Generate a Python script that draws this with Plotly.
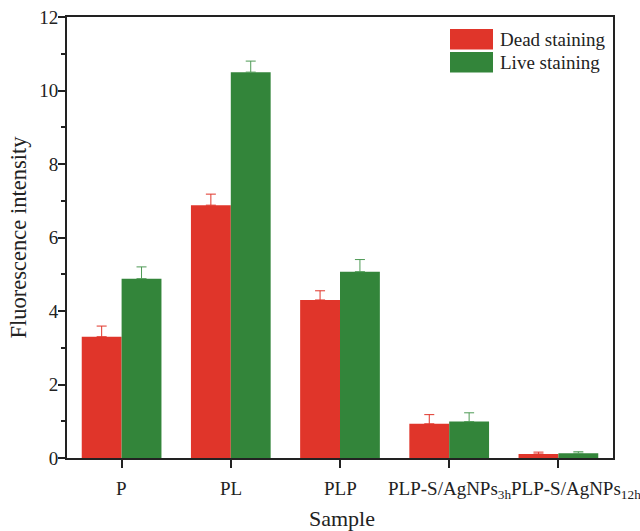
import plotly.graph_objects as go

categories = ["P", "PL", "PLP", "PLP-S/AgNPs<sub>3h</sub>", "PLP-S/AgNPs<sub>12h</sub>"]
dead_values = [3.30, 6.88, 4.30, 0.93, 0.11]
dead_errors = [0.29, 0.30, 0.25, 0.25, 0.05]
live_values = [4.88, 10.50, 5.07, 0.99, 0.13]
live_errors = [0.32, 0.30, 0.33, 0.24, 0.04]
y_ticks = [0, 2, 4, 6, 8, 10, 12]

RED = "#E0352A"
GREEN = "#33853A"
FONT = "Liberation Serif"
INK = "#222222"

fig = go.Figure()
fig.add_trace(go.Bar(
    x=categories, y=dead_values, name="Dead staining",
    marker=dict(color=RED, line=dict(width=0)),
    error_y=dict(type="data", array=dead_errors, arrayminus=[0]*len(dead_errors),
                 symmetric=False, color=RED, thickness=1, width=5),
    showlegend=False,
))
fig.add_trace(go.Bar(
    x=categories, y=live_values, name="Live staining",
    marker=dict(color=GREEN, line=dict(width=0)),
    error_y=dict(type="data", array=live_errors, arrayminus=[0]*len(live_errors),
                 symmetric=False, color="#4E9A55", thickness=1, width=5),
    showlegend=False,
))

shapes = []
annotations = []

# custom legend (wide swatches as in the reference)
legend_items = [("Dead staining", RED), ("Live staining", GREEN)]
for i, (label, col) in enumerate(legend_items):
    y0 = 1 - (29 - 17 + i * 23) / 441
    y1 = y0 - 20.5 / 441
    x0 = (450 - 67) / 546
    x1 = (493 - 67) / 546
    shapes.append(dict(type="rect", xref="paper", yref="paper", x0=x0, x1=x1, y0=y1, y1=y0,
                       fillcolor=col, line=dict(width=0), layer="above"))
    annotations.append(dict(xref="paper", yref="paper", x=(498 - 67) / 546, y=(y0 + y1) / 2,
                            text=label, showarrow=False, xanchor="left", yanchor="middle",
                            font=dict(family=FONT, size=19, color=INK)))

# category labels placed under each tick (last one nudged right like the reference)
label_shift = {4: 18}
for i, cat in enumerate(categories):
    annotations.append(dict(xref="x", yref="paper", x=cat, y=0, yanchor="top", xanchor="center",
                            yshift=-18, xshift=label_shift.get(i, 0), text=cat, showarrow=False,
                            font=dict(family=FONT, size=19, color=INK)))

# x-axis title
annotations.append(dict(xref="paper", yref="paper", x=0.5, y=0, yanchor="top", xanchor="center",
                        yshift=-46, xshift=2, text="Sample", showarrow=False,
                        font=dict(family=FONT, size=22, color=INK)))

fig.update_layout(
    width=640, height=531,
    margin=dict(l=67, r=27, t=17, b=73, autoexpand=False),
    paper_bgcolor="white", plot_bgcolor="white",
    barmode="group", bargap=0.27, bargroupgap=0,
    font=dict(family=FONT, size=19, color=INK),
    shapes=shapes, annotations=annotations,
    showlegend=False,
)
fig.update_xaxes(
    range=[-0.5, 4.5], showline=True, linecolor=INK, linewidth=2, mirror=True,
    ticks="outside", ticklen=8, tickwidth=2, tickcolor=INK, showgrid=False,
    showticklabels=False, automargin=False,
)
fig.update_yaxes(
    range=[0, 12], tickvals=y_ticks, showline=True, linecolor=INK, linewidth=2, mirror=True,
    ticks="outside", ticklen=7, tickwidth=2, tickcolor=INK, showgrid=False, zeroline=False,
    automargin=False, tickfont=dict(family=FONT, size=19), ticklabelstandoff=-4,
    minor=dict(dtick=1, ticks="outside", ticklen=4, tickwidth=2, tickcolor=INK, showgrid=False),
    title=dict(text="Fluorescence intensity", font=dict(family=FONT, size=22.5), standoff=6),
)

fig.write_html("out.html")
